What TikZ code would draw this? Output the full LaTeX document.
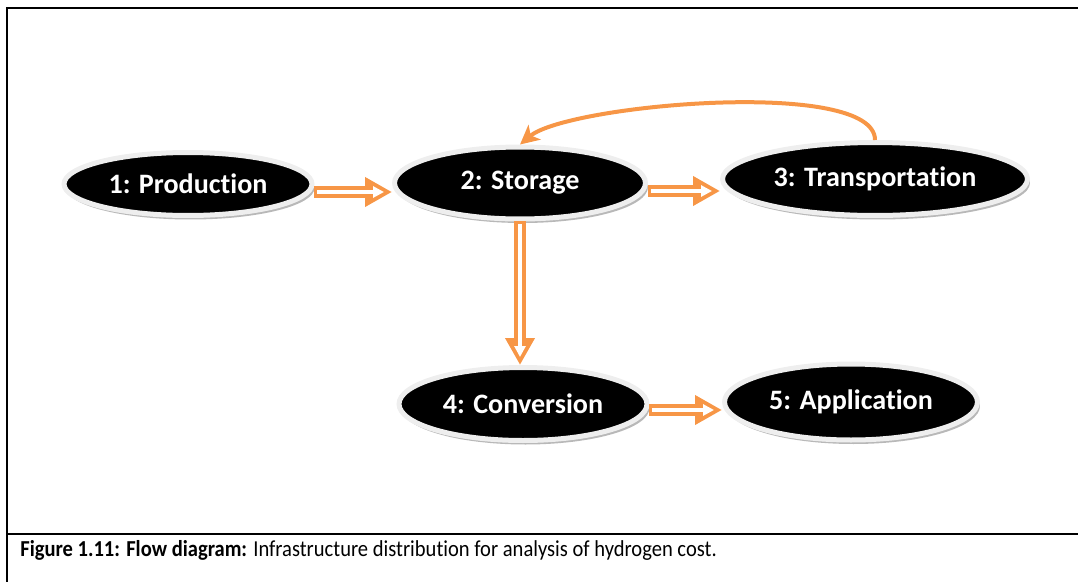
\documentclass[tikz,border=0pt]{standalone}
\usepackage{fontspec}
\setmainfont{Carlito}[Ligatures=CommonOff]
\newfontfamily\capfont{Carlito}[Ligatures=CommonOff, FakeStretch=0.9]
\usetikzlibrary{shapes.geometric,arrows.meta,shadows}
\definecolor{flowor}{HTML}{F79646}
\definecolor{rimgray}{HTML}{EEEEEE}

\begin{document}
\begin{tikzpicture}[x=0.02cm, y=-0.02cm,
  stage/.style={ellipse, draw=rimgray, line width=0.1cm, fill=black, text=white, inner sep=0pt,
    font=\fontsize{16}{19}\selectfont\bfseries,
    drop shadow={shadow xshift=0.05cm, shadow yshift=-0.08cm, fill=black!28, opacity=1}},
  flowout/.style={flowor, line width=0.25cm, -{Triangle[length=0.54cm,width=0.56cm]}},
  flowin/.style={white, line width=0.09cm, shorten <=0.06cm, shorten >=0.16cm, -{Triangle[length=0.22cm,width=0.22cm]}},
  loopback/.style={flowor, line width=0.08cm, -{Stealth[length=0.38cm,width=0.38cm,inset=0.1cm]}},
  frame/.style={line width=0.055cm}]
\useasboundingbox (0,0) rectangle (1078,582);
% frame and caption
\draw[frame] (1078,8) -- (7,8) -- (7,582);
\draw[line width=0.035cm] (7,534) -- (1078,534);
\node[anchor=west, inner sep=0pt, font=\capfont\fontsize{13}{15}\selectfont] (cap) at (20,550) {\textbf{Figure 1.11: Flow diagram:} Infrastructure distribution for analysis of hydrogen cost.};
% stages
\node[stage, minimum width=4.96cm, minimum height=1.26cm] (prod) at (188,184) {1: Production};
\node[stage, minimum width=5.02cm, minimum height=1.44cm] (stor) at (520,183) {2: Storage};
\node[stage, minimum width=6.1cm, minimum height=1.46cm] (trans) at (875,179) {3: Transportation};
\node[stage, minimum width=4.96cm, minimum height=1.46cm] (conv) at (523,404) {4: Conversion};
\node[stage, minimum width=5.06cm, minimum height=1.52cm] (app) at (851,402) {5: Application};
% flows
\draw[flowout] ([yshift=-0.16cm]prod.east) -- ([yshift=-0.16cm]prod.east -| stor.west);
\draw[flowin] ([yshift=-0.16cm]prod.east) -- ([yshift=-0.16cm]prod.east -| stor.west);
\draw[flowout] ([yshift=-0.16cm]stor.east) -- ([yshift=-0.16cm]stor.east -| trans.west);
\draw[flowin] ([yshift=-0.16cm]stor.east) -- ([yshift=-0.16cm]stor.east -| trans.west);
\draw[flowout] (stor.south) -- (stor.south |- conv.north);
\draw[flowin] (stor.south) -- (stor.south |- conv.north);
\draw[flowout] ([yshift=-0.12cm]conv.east) -- ([yshift=-0.12cm]conv.east -| app.west);
\draw[flowin] ([yshift=-0.12cm]conv.east) -- ([yshift=-0.12cm]conv.east -| app.west);
\draw[loopback] (trans.north) to[out=90, in=40, looseness=0.45] (stor.north);
\end{tikzpicture}
\end{document}
